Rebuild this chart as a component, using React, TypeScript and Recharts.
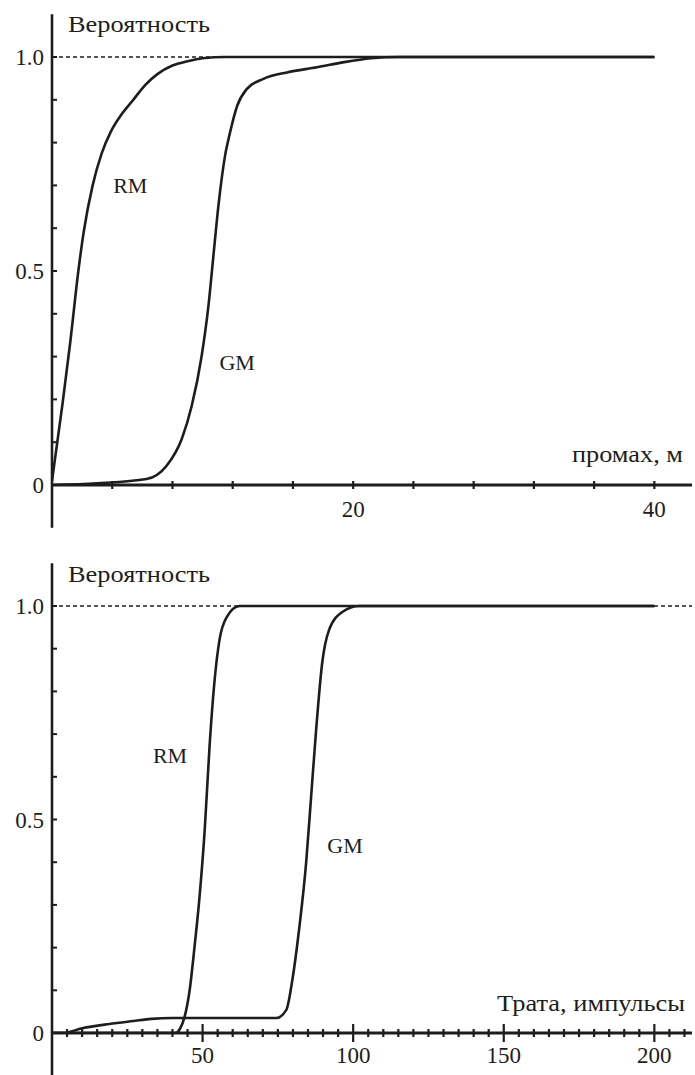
import React from 'react';
import { LineChart, Line, XAxis, YAxis, ReferenceLine, ReferenceDot } from 'recharts';

const FONT = 'Liberation Serif, Times New Roman, serif';
const INK = '#1d1d1d';

// ---- Top chart: probability vs miss distance (м)
const topRmX = [0, 0.7, 1.2, 1.75, 2.1, 2.7, 3.3, 3.9, 4.6, 5.4, 6.2, 7, 8, 9, 10, 11.5, 40];
const topRmY = [0.01, 0.19, 0.33, 0.5, 0.59, 0.7, 0.775, 0.825, 0.865, 0.9, 0.935, 0.96, 0.98, 0.99, 0.997, 1, 1];
const topGmX = [0, 3, 6.28, 7.61, 8.61, 9.28, 9.94, 10.39, 10.72, 11.05, 11.49, 11.8, 12.3, 12.93, 14.04, 15.6, 17.6, 19.4, 21.2, 23, 40];
const topGmY = [0, 0.004, 0.014, 0.045, 0.107, 0.185, 0.302, 0.419, 0.536, 0.652, 0.769, 0.82, 0.886, 0.925, 0.949, 0.964, 0.976, 0.988, 0.997, 1, 1];

// ---- Bottom chart: probability vs expenditure (импульсы)
const botRmX = [0, 41, 42.5, 44, 45.7, 47.3, 49, 50.7, 52.3, 54, 55.6, 58, 62.3, 200];
const botRmY = [0, 0, 0.01, 0.037, 0.1, 0.2, 0.32, 0.475, 0.67, 0.827, 0.92, 0.974, 1, 1];
const botGmX = [0, 3.7, 10, 19, 27, 33, 40, 74.5, 77.8, 79.8, 82, 84.4, 86, 87.7, 89.7, 92, 96.4, 102, 200];
const botGmY = [0, 0, 0.011, 0.021, 0.028, 0.033, 0.035, 0.035, 0.054, 0.124, 0.24, 0.4, 0.55, 0.71, 0.866, 0.944, 0.986, 1, 1];

// ---- Ticks
const yTicks = [0, 0.1, 0.2, 0.3, 0.4, 0.5, 0.6, 0.7, 0.8, 0.9, 1];
const yTickLabels = ['0', '0.5', '1.0'];
const topXTicks = [4, 8, 12, 16, 20, 24, 28, 32, 36, 40];
const topXLabels = [20, 40];
const topXMajors: number[] = [];
const botXTicks = [5, 10, 15, 20, 25, 30, 35, 40, 45, 50, 55, 60, 65, 70, 75, 80, 85, 90, 95, 100, 105, 110, 115, 120, 125, 130, 135, 140, 145, 150, 155, 160, 165, 170, 175, 180, 185, 190, 195, 200, 205, 210];
const botXLabels = [50, 100, 150, 200];
const botXMajors = [50, 100, 150, 200];

const toPoints = (xs: number[], ys: number[]) => xs.map((x, i) => ({ x, y: ys[i] }));

const fmtY = (v: number) => (v === 0 ? '0' : v === 0.5 ? '0.5' : v === 1 ? '1.0' : '');

const tickStyle: React.CSSProperties = { fontFamily: FONT, fontSize: 23 };

function YTick(props: any) {
  const { x, y, payload } = props;
  const lab = fmtY(payload.value);
  return (
    <g>
      <line x1={x} x2={x + 5} y1={y} y2={y} stroke={INK} strokeWidth={2} />
      {yTickLabels.includes(lab) && (
        <text x={x - 8} y={y + 8} textAnchor="end" style={tickStyle} fill={INK}>
          {lab}
        </text>
      )}
    </g>
  );
}

function makeXTick(labels: number[], majors: number[], labelDy: number) {
  return (props: any) => {
    const { x, y, payload } = props;
    const v = payload.value;
    const h = majors.includes(v) ? 9 : 4;
    return (
      <g>
        <line x1={x} x2={x} y1={y - h} y2={y + h} stroke={INK} strokeWidth={2.2} />
        {labels.includes(v) && (
          <text x={x} y={y + labelDy} textAnchor="middle" style={tickStyle} fill={INK}>
            {v}
          </text>
        )}
      </g>
    );
  };
}

function txt(text: string, anchor: 'start' | 'middle' | 'end', dx: number, dy: number, len?: number) {
  return (p: any) => (
    <text
      x={p.viewBox.x + dx}
      y={p.viewBox.y + dy}
      textAnchor={anchor}
      style={{ fontFamily: FONT, fontSize: len ? 23 : 22 }}
      fill={INK}
      {...(len ? { textLength: len, lengthAdjust: 'spacingAndGlyphs' } : {})}
    >
      {text}
    </text>
  );
}

const lineProps = {
  type: 'monotone' as const,
  dataKey: 'y',
  stroke: INK,
  strokeWidth: 2.6,
  dot: false,
  isAnimationActive: false,
  activeDot: false,
};

function TopChart() {
  return (
    <LineChart width={695} height={540} margin={{ top: 14.2, right: 3, bottom: 25, left: 0 }} style={{ display: 'block' }}>
      <XAxis
        type="number"
        dataKey="x"
        domain={[0, 42.5]}
        allowDataOverflow
        ticks={topXTicks}
        interval={0}
        height={30}
        tickSize={0}
        tickMargin={0}
        tickLine={false}
        axisLine={{ stroke: INK, strokeWidth: 3 }}
        tick={makeXTick(topXLabels, topXMajors, 32)}
      />
      <YAxis
        type="number"
        domain={[0, 1.1]}
        allowDataOverflow
        ticks={yTicks}
        interval={0}
        width={52}
        tickSize={0}
        tickMargin={0}
        tickLine={false}
        axisLine={{ stroke: INK, strokeWidth: 2.6 }}
        tick={<YTick />}
      />
      <ReferenceLine segment={[{ x: 0, y: 0 }, { x: 0, y: -0.1 }]} ifOverflow="visible" stroke={INK} strokeWidth={2.6} />
      <ReferenceLine segment={[{ x: 0, y: 1 }, { x: 40, y: 1 }]} stroke={INK} strokeWidth={1.3} strokeDasharray="4 3" />
      <Line data={toPoints(topRmX, topRmY)} {...lineProps} />
      <Line data={toPoints(topGmX, topGmY)} {...lineProps} />
      <ReferenceDot x={0} y={1.1} r={0} ifOverflow="visible" label={{ content: txt('Вероятность', 'start', 16, 18, 142) }} />
      <ReferenceDot x={5.2} y={0.7} r={0} label={{ content: txt('RM', 'middle', 0, 8) }} />
      <ReferenceDot x={12.3} y={0.287} r={0} label={{ content: txt('GM', 'middle', 0, 8) }} />
      <ReferenceDot x={41.9} y={0.072} r={0} label={{ content: txt('промах, м', 'end', 0, 8, 111) }} />
    </LineChart>
  );
}

function BottomChart() {
  return (
    <LineChart width={695} height={535} margin={{ top: 23.3, right: 3, bottom: 12, left: 0 }} style={{ display: 'block' }}>
      <XAxis
        type="number"
        dataKey="x"
        domain={[0, 212.5]}
        allowDataOverflow
        ticks={botXTicks}
        interval={0}
        height={30}
        tickSize={0}
        tickMargin={0}
        tickLine={false}
        axisLine={{ stroke: INK, strokeWidth: 3 }}
        tick={makeXTick(botXLabels, botXMajors, 30)}
      />
      <YAxis
        type="number"
        domain={[0, 1.1]}
        allowDataOverflow
        ticks={yTicks}
        interval={0}
        width={52}
        tickSize={0}
        tickMargin={0}
        tickLine={false}
        axisLine={{ stroke: INK, strokeWidth: 2.6 }}
        tick={<YTick />}
      />
      <ReferenceLine segment={[{ x: 0, y: 0 }, { x: 0, y: -0.1 }]} ifOverflow="visible" stroke={INK} strokeWidth={2.6} />
      <ReferenceLine y={1} stroke={INK} strokeWidth={1.3} strokeDasharray="4 3" />
      <Line data={toPoints(botRmX, botRmY)} {...lineProps} />
      <Line data={toPoints(botGmX, botGmY)} {...lineProps} />
      <ReferenceDot x={0} y={1.1} r={0} ifOverflow="visible" label={{ content: txt('Вероятность', 'start', 16, 19, 142) }} />
      <ReferenceDot x={39.2} y={0.651} r={0} label={{ content: txt('RM', 'middle', 0, 8) }} />
      <ReferenceDot x={97.3} y={0.44} r={0} label={{ content: txt('GM', 'middle', 0, 8) }} />
      <ReferenceDot x={210.2} y={0.07} r={0} label={{ content: txt('Трата, импульсы', 'end', 0, 8, 188) }} />
    </LineChart>
  );
}

export default function App() {
  return (
    <div style={{ position: 'absolute', left: 0, top: 0, width: 695, height: 1075, background: '#fff' }}>
      <TopChart />
      <BottomChart />
    </div>
  );
}
